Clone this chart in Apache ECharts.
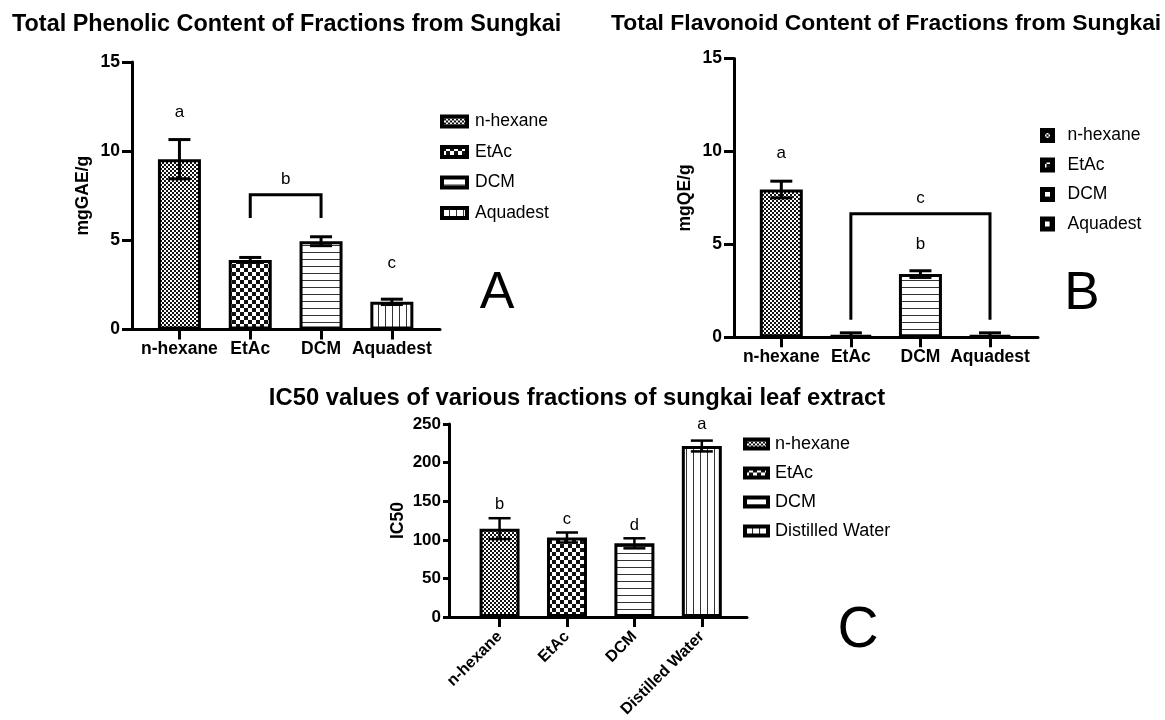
<!DOCTYPE html>
<html><head><meta charset="utf-8">
<script src="https://cdn.jsdelivr.net/npm/echarts@6/dist/echarts.min.js"></script>
<style>html,body{margin:0;padding:0;background:#fff}#c{width:1165px;height:720px}</style>
</head><body><div id="c"></div>
<script>
// ---------- DATA ----------
const phenolicCategories = ['n-hexane', 'EtAc', 'DCM', 'Aquadest'];
const phenolicMeans = [9.55, 3.9, 4.95, 1.55];
const phenolicSD = [1.1, 0.14, 0.25, 0.15];
const phenolicLetters = ['a', 'b', 'c'];
const phenolicLetterX = [0, 1.5, 3];
const phenolicLetterY = [12.2, 8.4, 3.7];
const phenolicBrackets = [[1, 2, 7.55, 6.25]];
const phenolicTicks = [0, 5, 10, 15];

const flavonoidCategories = ['n-hexane', 'EtAc', 'DCM', 'Aquadest'];
const flavonoidMeans = [7.95, 0.12, 3.4, 0.12];
const flavonoidSD = [0.45, 0.12, 0.18, 0.12];
const flavonoidLetters = ['a', 'c', 'b'];
const flavonoidLetterX = [0, 2, 2];
const flavonoidLetterY = [9.9, 7.5, 5.0];
const flavonoidBrackets = [[1, 3, 6.65, 0.95]];
const flavonoidTicks = [0, 5, 10, 15];

const ic50Categories = ['n-hexane', 'EtAc', 'DCM', 'Distilled Water'];
const ic50Means = [114.5, 103, 95.5, 221.5];
const ic50SD = [13.5, 6.5, 6.5, 7];
const ic50Letters = ['b', 'c', 'd', 'a'];
const ic50LetterX = [0, 1, 2, 3];
const ic50LetterY = [145.6, 126, 118.6, 248.8];
const ic50Ticks = [0, 50, 100, 150, 200, 250];

// ---------- STYLE HELPERS ----------
const FONT = '"Liberation Sans", Arial, Helvetica, sans-serif';
function pattern(kind) {
  const c = document.createElement('canvas');
  let w = 4, h = 4;
  if (kind === 'checker') { w = 8; h = 8; }
  if (kind === 'hlines') { w = 4; h = 7; }
  if (kind === 'vlines') { w = 7; h = 4; }
  c.width = w; c.height = h;
  const g = c.getContext('2d');
  g.fillStyle = '#fff'; g.fillRect(0, 0, w, h);
  g.fillStyle = '#111';
  if (kind === 'fine') { g.fillRect(0, 0, 2, 2); g.fillRect(2, 2, 2, 2); }
  if (kind === 'checker') { g.fillRect(0, 0, 4, 4); g.fillRect(4, 4, 4, 4); }
  if (kind === 'hlines') { g.fillStyle = '#333'; g.fillRect(0, 0, w, 1); }
  if (kind === 'vlines') { g.fillStyle = '#333'; g.fillRect(0, 0, 1, h); }
  return { image: c, repeat: 'repeat' };
}
const fills = [pattern('fine'), pattern('checker'), pattern('hlines'), pattern('vlines')];

const panels = [
  { cats: phenolicCategories, means: phenolicMeans, sd: phenolicSD, letters: phenolicLetters,
    lx: phenolicLetterX, ly: phenolicLetterY, brackets: phenolicBrackets, ticks: phenolicTicks,
    grid: { left: 132, top: 62, width: 308, height: 267.5 }, xmin: -0.67, xmax: 3.68,
    yname: 'mgGAE/g', nameGap: 40, barW: 43, cap: 22, lw: 3, rotate: 0, xfs: 17.5, yfs: 17.5, lfs: 17 },
  { cats: flavonoidCategories, means: flavonoidMeans, sd: flavonoidSD, letters: flavonoidLetters,
    lx: flavonoidLetterX, ly: flavonoidLetterY, brackets: flavonoidBrackets, ticks: flavonoidTicks,
    grid: { left: 734, top: 58.5, width: 304, height: 278.8 }, xmin: -0.68, xmax: 3.69,
    yname: 'mgQE/g', nameGap: 40, barW: 43, cap: 22, lw: 3, rotate: 0, xfs: 17.5, yfs: 17.5, lfs: 17 },
  { cats: ic50Categories, means: ic50Means, sd: ic50SD, letters: ic50Letters,
    lx: ic50LetterX, ly: ic50LetterY, brackets: [], ticks: ic50Ticks,
    grid: { left: 449, top: 424, width: 298, height: 200.3 }, xmin: -0.75, xmax: 3.67,
    yname: 'IC50', nameGap: 42, barW: 40, cap: 22, lw: 2.5, rotate: 45, xfs: 16, yfs: 17, lfs: 16.5 }
];

const grids = [], xAxes = [], yAxes = [], series = [];
panels.forEach((p, k) => {
  grids.push(Object.assign({ containLabel: false }, p.grid));
  xAxes.push({
    type: 'value', gridIndex: k, min: p.xmin, max: p.xmax,
    axisLine: { show: true, onZero: false, lineStyle: { color: '#000', width: 3 } },
    axisTick: { show: true, customValues: [0, 1, 2, 3], length: 10, lineStyle: { color: '#000', width: 3 } },
    axisLabel: { customValues: [0, 1, 2, 3], formatter: v => p.cats[Math.round(v)], margin: p.rotate ? 17 : 11,
      rotate: p.rotate, color: '#000', fontWeight: 'bold', fontSize: p.xfs, fontFamily: FONT },
    splitLine: { show: false }
  });
  const t = p.ticks;
  yAxes.push({
    type: 'value', gridIndex: k, min: t[0], max: t[t.length - 1], interval: t[1] - t[0],
    name: p.yname, nameLocation: 'middle', nameGap: p.nameGap, nameRotate: 90,
    nameTextStyle: { color: '#000', fontWeight: 'bold', fontSize: 17.5, fontFamily: FONT },
    axisLine: { show: true, onZero: false, lineStyle: { color: '#000', width: 3 } },
    axisTick: { show: true, length: k === 2 ? 6 : 10, lineStyle: { color: '#000', width: 3 } },
    axisLabel: { margin: k === 2 ? 8 : 12, color: '#000', fontWeight: 'bold', fontSize: p.yfs, fontFamily: FONT },
    splitLine: { show: false }
  });
  p.cats.forEach((c, i) => {
    series.push({
      type: 'bar', name: c, xAxisIndex: k, yAxisIndex: k,
      data: [[i, p.means[i]]], barWidth: p.barW, barGap: '-100%',
      itemStyle: { color: fills[i], borderColor: '#000', borderWidth: 3 },
      silent: true, z: 2
    });
  });
  // error bars
  series.push({
    type: 'custom', xAxisIndex: k, yAxisIndex: k, z: 5, silent: true,
    data: p.means.map((m, i) => [i, m, p.sd[i]]),
    renderItem(params, api) {
      const x = api.value(0), m = api.value(1), s = api.value(2);
      const top = api.coord([x, m + s]), bot = api.coord([x, Math.max(m - s, 0)]);
      const h = p.cap / 2, st = { stroke: '#000', lineWidth: p.lw };
      return { type: 'group', children: [
        { type: 'line', shape: { x1: top[0], y1: top[1], x2: bot[0], y2: bot[1] }, style: st },
        { type: 'line', shape: { x1: top[0] - h, y1: top[1], x2: top[0] + h, y2: top[1] }, style: st },
        { type: 'line', shape: { x1: bot[0] - h, y1: bot[1], x2: bot[0] + h, y2: bot[1] }, style: st }
      ] };
    }
  });
  // brackets
  if (p.brackets.length) series.push({
    type: 'custom', xAxisIndex: k, yAxisIndex: k, z: 5, silent: true,
    data: p.brackets,
    renderItem(params, api) {
      const x1 = api.value(0), x2 = api.value(1), yt = api.value(2), yl = api.value(3);
      return { type: 'polyline', shape: { points: [api.coord([x1, yl]), api.coord([x1, yt]), api.coord([x2, yt]), api.coord([x2, yl])] },
        style: { stroke: '#000', lineWidth: 3, fill: null } };
    }
  });
  // significance letters
  series.push({
    type: 'custom', xAxisIndex: k, yAxisIndex: k, z: 6, silent: true,
    data: p.lx.map((x, i) => [x, p.ly[i]]),
    renderItem(params, api) {
      const pt = api.coord([api.value(0), api.value(1)]);
      return { type: 'text', x: pt[0], y: pt[1],
        style: { text: p.letters[params.dataIndex], fill: '#000', font: p.lfs + 'px ' + FONT, align: 'center', verticalAlign: 'middle' } };
    }
  });
});

const legendBase = {
  orient: 'vertical', selectedMode: false, icon: 'rect',
  textStyle: { color: '#000', fontSize: 17.5, fontFamily: FONT, lineHeight: 18 }
};
const legends = [
  Object.assign({}, legendBase, { data: phenolicCategories, left: 435, top: 107.5, itemWidth: 25, itemHeight: 10, itemGap: 12.5,
    itemStyle: { borderColor: '#000', borderWidth: 4 }, textStyle: Object.assign({}, legendBase.textStyle, { padding: [0, 0, 0, 3] }) }),
  Object.assign({}, legendBase, { data: flavonoidCategories, left: 1035, top: 121.5, itemWidth: 10, itemHeight: 10, itemGap: 11.5,
    itemStyle: { borderColor: '#000', borderWidth: 5 }, textStyle: Object.assign({}, legendBase.textStyle, { padding: [0, 0, 0, 10] }) }),
  Object.assign({}, legendBase, { data: ic50Categories, left: 738, top: 430, itemWidth: 23, itemHeight: 9, itemGap: 11,
    itemStyle: { borderColor: '#000', borderWidth: 4 }, textStyle: Object.assign({}, legendBase.textStyle, { fontSize: 18, padding: [0, 0, 0, 2] }) })
];

const graphic = [
  { type: 'text', x: 12, y: 25, style: { text: 'Total Phenolic Content of Fractions from Sungkai', font: 'bold 23.4px ' + FONT, fill: '#000', align: 'left', verticalAlign: 'middle' } },
  { type: 'text', x: 611, y: 23.5, style: { text: 'Total Flavonoid Content of Fractions from Sungkai', font: 'bold 22.9px ' + FONT, fill: '#000', align: 'left', verticalAlign: 'middle' } },
  { type: 'text', x: 577, y: 398, style: { text: 'IC50 values of various fractions of sungkai leaf extract', font: 'bold 23.8px ' + FONT, fill: '#000', align: 'center', verticalAlign: 'middle' } },
  { type: 'text', x: 497, y: 294, style: { text: 'A', font: '52px ' + FONT, fill: '#000', align: 'center', verticalAlign: 'middle' } },
  { type: 'text', x: 1082, y: 294, style: { text: 'B', font: '53px ' + FONT, fill: '#000', align: 'center', verticalAlign: 'middle' } },
  { type: 'text', x: 858, y: 631, style: { text: 'C', font: '57px ' + FONT, fill: '#000', align: 'center', verticalAlign: 'middle' } }
];

const chart = echarts.init(document.getElementById('c'), null, { renderer: 'canvas' });
chart.setOption({
  animation: false, backgroundColor: '#fff',
  grid: grids, xAxis: xAxes, yAxis: yAxes, legend: legends, series: series, graphic: graphic
});
</script>
</body></html>
